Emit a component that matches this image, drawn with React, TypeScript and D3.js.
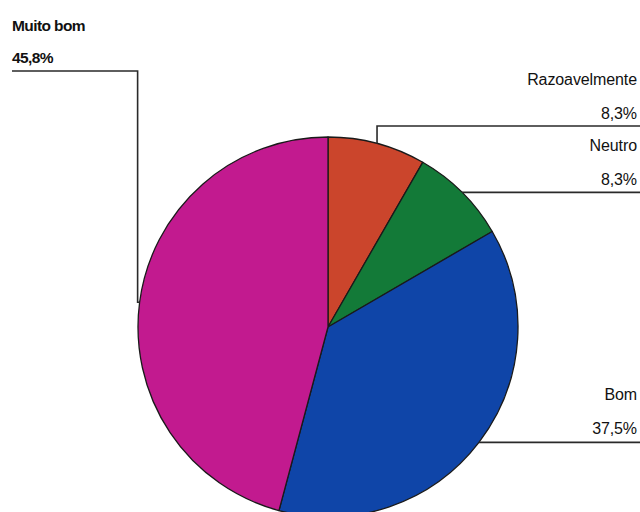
import React from "react";
import * as d3 from "d3";

const categories = ["Razoavelmente", "Neutro", "Bom", "Muito bom"];
const values = [8.3, 8.3, 37.5, 45.8];
const valueLabels = ["8,3%", "8,3%", "37,5%", "45,8%"];
const colors = ["#cb452c", "#137a38", "#0f45a8", "#c21a8f"];

const W = 640;
const H = 512;
const cx = 328;
const cy = 327;
const R = 190;

// label layout: side, label baseline y, elbow y (null = direct horizontal)
const layout = [
  { side: "right", nameY: 85, valY: 119, elbowY: 126 },
  { side: "right", nameY: 151, valY: 185, elbowY: null },
  { side: "right", nameY: 400, valY: 434, elbowY: null },
  { side: "left", nameY: 31, valY: 63, elbowY: 71 },
];

export default function App() {
  const pie = d3
    .pie<number>()
    .sort(null)
    .startAngle(0)
    .endAngle(2 * Math.PI)
    .value((d) => d);
  const arcs = pie(values);
  const arc = d3.arc<d3.PieArcDatum<number>>().innerRadius(0).outerRadius(R);

  const leaders = arcs.map((a, i) => {
    const mid = (a.startAngle + a.endAngle) / 2;
    const px = cx + R * Math.sin(mid);
    const py = cy - R * Math.cos(mid);
    const L = layout[i];
    const path = d3.path();
    if (L.side === "right") {
      if (L.elbowY !== null) {
        path.moveTo(px, py);
        path.lineTo(px, L.elbowY);
        path.lineTo(W, L.elbowY);
      } else {
        path.moveTo(px, py);
        path.lineTo(W, py);
      }
    } else {
      const vx = px - 2;
      path.moveTo(px, py);
      path.lineTo(vx, py);
      path.lineTo(vx, L.elbowY as number);
      path.lineTo(12, L.elbowY as number);
    }
    return path.toString();
  });

  return (
    <svg
      width={W}
      height={H}
      style={{ position: "absolute", left: 0, top: 0, background: "#ffffff" }}
      fontFamily="'Liberation Sans', Arial, sans-serif"
    >
      <rect x={0} y={0} width={W} height={H} fill="#ffffff" />
      <g transform={`translate(${cx},${cy})`}>
        {arcs.map((a, i) => (
          <path
            key={categories[i]}
            d={arc(a) as string}
            fill={colors[i]}
            stroke="#1a1a1a"
            strokeWidth={1.3}
            strokeLinejoin="round"
          />
        ))}
      </g>
      {leaders.map((d, i) => (
        <path key={"l" + i} d={d} fill="none" stroke="#2a2a2a" strokeWidth={1.6} />
      ))}
      {categories.map((c, i) => {
        const L = layout[i];
        const right = L.side === "right";
        const props = {
          x: right ? 637 : 12,
          textAnchor: right ? "end" : "start",
          fontSize: right ? 16 : 15.5,
          fontWeight: right ? "normal" : "bold",
          letterSpacing: right ? -0.1 : -0.6,
          fill: "#111",
        } as const;
        return (
          <g key={"t" + i}>
            <text {...props} y={L.nameY}>
              {c}
            </text>
            <text {...props} y={L.valY}>
              {valueLabels[i]}
            </text>
          </g>
        );
      })}
    </svg>
  );
}
